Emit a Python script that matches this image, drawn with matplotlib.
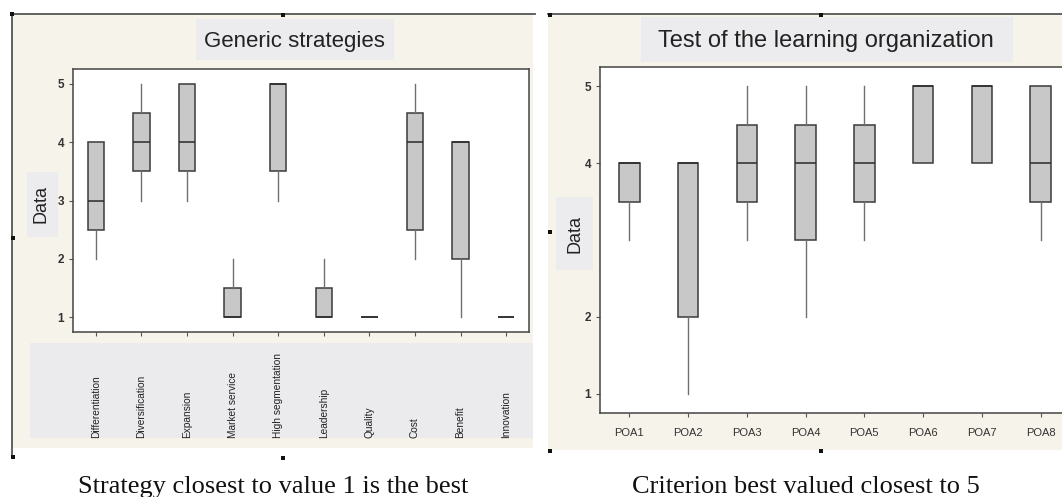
import matplotlib
matplotlib.use("Agg")
import matplotlib.pyplot as plt
from matplotlib.patches import Rectangle
from matplotlib import font_manager

# Generic strategies (left panel)
strategies = ["Differentiation", "Diversification", "Expansion", "Market service",
              "High segmentation", "Leadership", "Quality", "Cost", "Benefit", "Innovation"]
gs_low = [2, 3, 3, 1, 3, 1, 1, 2, 1, 1]
gs_q1 = [2.5, 3.5, 3.5, 1, 3.5, 1, 1, 2.5, 2, 1]
gs_med = [3, 4, 4, 1, 5, 1, 1, 4, 4, 1]
gs_q3 = [4, 4.5, 5, 1.5, 5, 1.5, 1, 4.5, 4, 1]
gs_high = [4, 5, 5, 2, 5, 2, 1, 5, 4, 1]

# Test of the learning organization (right panel)
poa_labels = ["POA1", "POA2", "POA3", "POA4", "POA5", "POA6", "POA7", "POA8"]
poa_low = [3, 1, 3, 2, 3, 4, 4, 3]
poa_q1 = [3.5, 2, 3.5, 3, 3.5, 4, 4, 3.5]
poa_med = [4, 4, 4, 4, 4, 5, 5, 4]
poa_q3 = [4, 4, 4.5, 4.5, 4.5, 5, 5, 5]
poa_high = [4, 4, 5, 5, 5, 5, 5, 5]

W, H = 1062, 497
CREAM = "#f6f3ea"
LABELBG = "#ebebee"

installed = {f.name for f in font_manager.fontManager.ttflist}
NARROW = "Liberation Sans Narrow" if "Liberation Sans Narrow" in installed else "Liberation Sans"
SANS = "Liberation Sans"
SERIF = "Liberation Serif"


def px_rect(fig, x0, y0, x1, y1, color, z=0):
    # rectangle given in image pixels (y from top)
    fig.patches.append(Rectangle((x0 / W, 1 - y1 / H), (x1 - x0) / W, (y1 - y0) / H,
                                 transform=fig.transFigure, facecolor=color,
                                 edgecolor="none", zorder=z))


def px_line(fig, xs, ys, color="#555555", lw=1.3):
    fig.add_artist(plt.Line2D([x / W for x in xs], [1 - y / H for y in ys],
                              transform=fig.transFigure, color=color, lw=lw, zorder=1))


def make_stats(low, q1, med, q3, high):
    return [dict(whislo=a, q1=b, med=c, q3=d, whishi=e, fliers=[])
            for a, b, c, d, e in zip(low, q1, med, q3, high)]


def draw_boxes(ax, stats, width):
    ax.bxp(stats, positions=range(1, len(stats) + 1), widths=width,
           showcaps=False, showfliers=False, patch_artist=True,
           boxprops=dict(facecolor="#c8c8c8", edgecolor="#3a3a3a", linewidth=1.1),
           medianprops=dict(color="#2a2a2a", linewidth=1.1),
           whiskerprops=dict(color="#707070", linewidth=1.0))


def style_axes(ax):
    ax.set_zorder(2)
    for s in ax.spines.values():
        s.set_color("#444444")
        s.set_linewidth(1.1)
    ax.tick_params(axis="both", length=3, width=0.8, color="#555555")
    ax.set_facecolor("white")


fig = plt.figure(figsize=(W / 100, H / 100), dpi=100)

# panel backgrounds and frames
px_rect(fig, 12, 14, 533, 448, CREAM)
px_rect(fig, 548, 14, 1062, 450, CREAM)
px_rect(fig, 30, 343, 533, 438, LABELBG, z=0.5)
px_rect(fig, 196, 19, 394, 60, "#ececee", z=0.5)
px_rect(fig, 641, 17, 1013, 62, "#ececee", z=0.5)
px_rect(fig, 27, 172, 58, 237, "#ececee", z=0.5)
px_rect(fig, 556, 197, 593, 270, "#ececee", z=0.5)
px_line(fig, [12, 535], [14, 14])
px_line(fig, [12, 12], [14, 457])
px_line(fig, [548, 1062], [14, 14])
for hx, hy in [(12, 14), (283, 15), (13, 238), (13, 457), (283, 458),
               (550, 15), (821, 15), (550, 232), (550, 451), (821, 451)]:
    px_rect(fig, hx - 2, hy - 2, hx + 2, hy + 2, "#111111", z=3)

# left panel
ax1 = fig.add_axes([73 / W, 1 - 332 / H, (529 - 73) / W, (332 - 69) / H])
draw_boxes(ax1, make_stats(gs_low, gs_q1, gs_med, gs_q3, gs_high), 0.36)
ax1.set_xlim(0.5, len(strategies) + 0.5)
ax1.set_ylim(0.75, 5.25)
ax1.set_yticks([1, 2, 3, 4, 5])
ax1.set_xticks(range(1, len(strategies) + 1))
ax1.set_xticklabels(strategies, rotation=90, va="bottom", ha="center",
                    family=NARROW, fontsize=7.3, color="#222222")
style_axes(ax1)
ax1.tick_params(axis="x", pad=73)
for t in ax1.get_yticklabels():
    t.set_fontfamily(NARROW)
    t.set_fontweight("bold")
    t.set_fontsize(8.5)
    t.set_color("#333333")

fig.text(294 / W, 1 - 41 / H, "Generic strategies", family=SANS, fontsize=16,
         ha="center", va="center", color="#222222")
fig.text(41 / W, 1 - 204 / H, "Data", family=SANS, fontsize=13, rotation=90,
         ha="center", va="center", color="#222222")
fig.text(273 / W, 1 - 487 / H, "Strategy closest to value 1 is the best", family=SERIF,
         fontsize=19, ha="center", va="center", color="#111111")

# right panel
ax2 = fig.add_axes([600 / W, 1 - 413 / H, (1070 - 600) / W, (413 - 67) / H])
draw_boxes(ax2, make_stats(poa_low, poa_q1, poa_med, poa_q3, poa_high), 0.35)
ax2.set_xlim(0.5, len(poa_labels) + 0.5)
ax2.set_ylim(0.75, 5.25)
ax2.set_yticks([1, 2, 4, 5])
ax2.set_xticks(range(1, len(poa_labels) + 1))
ax2.set_xticklabels(poa_labels, family=NARROW, fontsize=8, color="#333333")
style_axes(ax2)
ax2.tick_params(axis="x", pad=8)
for t in ax2.get_yticklabels():
    t.set_fontfamily(NARROW)
    t.set_fontweight("bold")
    t.set_fontsize(8.5)
    t.set_color("#333333")

fig.text(826 / W, 1 - 41 / H, "Test of the learning organization", family=SANS,
         fontsize=17, ha="center", va="center", color="#222222")
fig.text(575 / W, 1 - 234 / H, "Data", family=SANS, fontsize=13, rotation=90,
         ha="center", va="center", color="#222222")
fig.text(806 / W, 1 - 487 / H, "Criterion best valued closest to 5", family=SERIF,
         fontsize=19, ha="center", va="center", color="#111111")

fig.savefig("out.png", dpi=100)
